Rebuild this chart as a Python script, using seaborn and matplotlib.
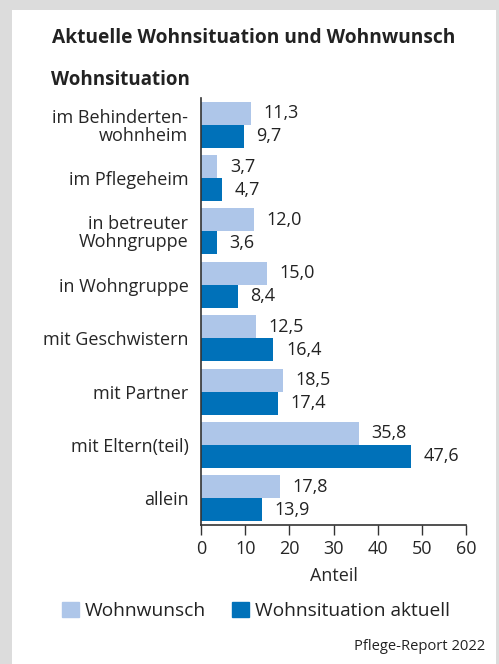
import matplotlib
matplotlib.use("Agg")
import matplotlib.pyplot as plt
import matplotlib.patches as mpatches
import pandas as pd
import seaborn as sns

# data
categories = [
    "im Behinderten-\nwohnheim",
    "im Pflegeheim",
    "in betreuter\nWohngruppe",
    "in Wohngruppe",
    "mit Geschwistern",
    "mit Partner",
    "mit Eltern(teil)",
    "allein",
]
wohnwunsch = [11.3, 3.7, 12.0, 15.0, 12.5, 18.5, 35.8, 17.8]
aktuell = [9.7, 4.7, 3.6, 8.4, 16.4, 17.4, 47.6, 13.9]
series = ["Wohnwunsch", "Wohnsituation aktuell"]
x_ticks = [0, 10, 20, 30, 40, 50, 60]

light = "#aec6e9"
dark = "#0071b9"

df = pd.DataFrame({
    "Wohnsituation": categories * 2,
    "Anteil": wohnwunsch + aktuell,
    "Serie": [series[0]] * len(categories) + [series[1]] * len(categories),
})

sns.set_style("white")
plt.rcParams["font.family"] = ["Open Sans", "DejaVu Sans"]
plt.rcParams["text.color"] = "#222222"

fig = plt.figure(figsize=(4.99, 6.64), dpi=100, facecolor="#dcdcdc")
# white card on the grey border
fig.patches.append(mpatches.Rectangle((12 / 499, 0), 484 / 499, 654 / 664,
                                      transform=fig.transFigure,
                                      facecolor="white", edgecolor="none",
                                      zorder=-1))

ax = fig.add_axes([201 / 499, 1 - 525 / 664, 265 / 499, 427 / 664])
ax.set_facecolor("white")
sns.barplot(data=df, y="Wohnsituation", x="Anteil", hue="Serie",
            order=categories, hue_order=series, palette=[light, dark],
            saturation=1, orient="h", width=0.86, gap=0, linewidth=0,
            ax=ax, legend=False)

for cont in ax.containers:
    ax.bar_label(cont, labels=[f"{v:.1f}".replace(".", ",") for v in cont.datavalues],
                 padding=9, fontsize=13, color="#222222")

ax.set_xlim(0, 60)
ax.set_ylim(7.5, -0.5)
ax.set_xticks(x_ticks)
ax.set_xticklabels([str(t) for t in x_ticks])
ax.tick_params(axis="x", length=7, width=1, color="#333333", labelsize=13,
               pad=4, bottom=True)
ax.tick_params(axis="y", length=0, labelsize=13, pad=9)
for lab in ax.get_yticklabels():
    lab.set_horizontalalignment("right")
    lab.set_multialignment("right")
    lab.set_linespacing(1.0)
ax.set_xlabel("Anteil", fontsize=13, labelpad=6)
ax.set_ylabel("")
sns.despine(ax=ax, top=True, right=True)
for side in ["left", "bottom"]:
    ax.spines[side].set_color("#333333")
    ax.spines[side].set_linewidth(1.2)

fig.text(254 / 499, 1 - 38 / 664, "Aktuelle Wohnsituation und Wohnwunsch",
         ha="center", va="center", fontsize=13.8, fontweight="bold")
fig.text(51 / 499, 1 - 80 / 664, "Wohnsituation",
         ha="left", va="center", fontsize=13.5, fontweight="bold")

handles = [mpatches.Patch(color=light, label=series[0]),
           mpatches.Patch(color=dark, label=series[1])]
fig.legend(handles=handles, loc="center", bbox_to_anchor=(256 / 499, 1 - 611 / 664),
           ncol=2, frameon=False, fontsize=13.8, handlelength=0.85,
           handleheight=0.85, handletextpad=0.3, columnspacing=1.4)

fig.text(485 / 499, 1 - 646 / 664, "Pflege-Report 2022",
         ha="right", va="center", fontsize=10.6)

fig.savefig("out.png", dpi=100, facecolor=fig.get_facecolor())
